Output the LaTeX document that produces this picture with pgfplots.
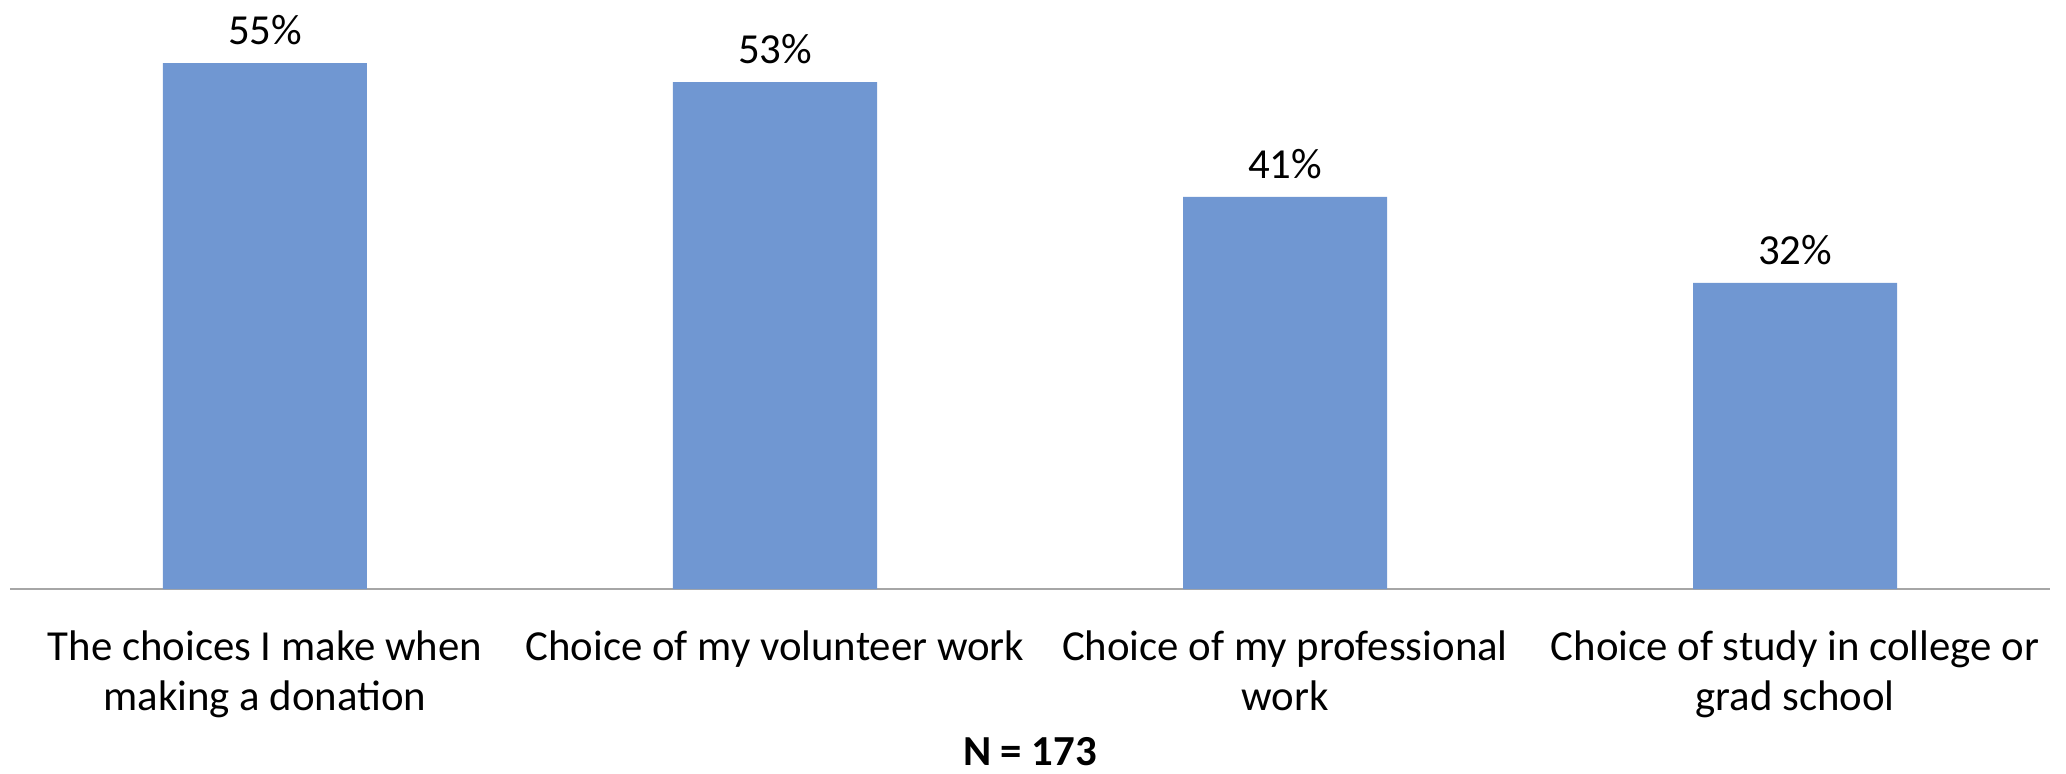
\documentclass[border=0pt]{standalone}
\usepackage{fontspec}
\setmainfont{Carlito}
\usepackage{pgfplots}
\pgfplotsset{compat=1.18}
\definecolor{barblue}{HTML}{7097D2}
\definecolor{axgray}{HTML}{A6A6A6}
\begin{document}
\begin{tikzpicture}[font=\fontsize{10.7pt}{12.5pt}\selectfont]
\begin{axis}[
  scale only axis, width=510pt, height=131.5pt,
  xmin=-0.5, xmax=3.5, ymin=0, ymax=55,
  axis y line=none, axis x line*=bottom,
  x axis line style={draw=axgray, line width=0.5pt},
  xtick=data, xtick style={draw=none}, ytick=\empty,
  xticklabels={{The choices I make when\\making a donation},{Choice of my volunteer work},{Choice of my professional\\work},{Choice of study in college or\\grad school}},
  xticklabel style={align=center, anchor=north, inner sep=0pt, yshift=-6pt, font=\fontsize{10.7pt}{12.5pt}\selectfont},
  ybar, bar width=0.4,
  nodes near coords={\pgfmathprintnumber[assume math mode=true]{\pgfplotspointmeta}\%},
  nodes near coords style={font=\fontsize{10.7pt}{12.5pt}\selectfont, black, yshift=1pt},
  clip=false,
]
\addplot[fill=barblue, draw=none] coordinates {(0,55) (1,53) (2,41) (3,32)};
\coordinate (bbsw) at (rel axis cs:-0.0049,-0.3498);
\coordinate (bbne) at (rel axis cs:1.00784,1.1198);
\node[anchor=base, inner sep=0pt, font=\fontsize{10.7pt}{12.5pt}\selectfont\bfseries] at (rel axis cs:0.5,-0.3346) {N = 173};
\end{axis}
\pgfresetboundingbox
\path[use as bounding box] (bbsw) rectangle (bbne);
\end{tikzpicture}
\end{document}
